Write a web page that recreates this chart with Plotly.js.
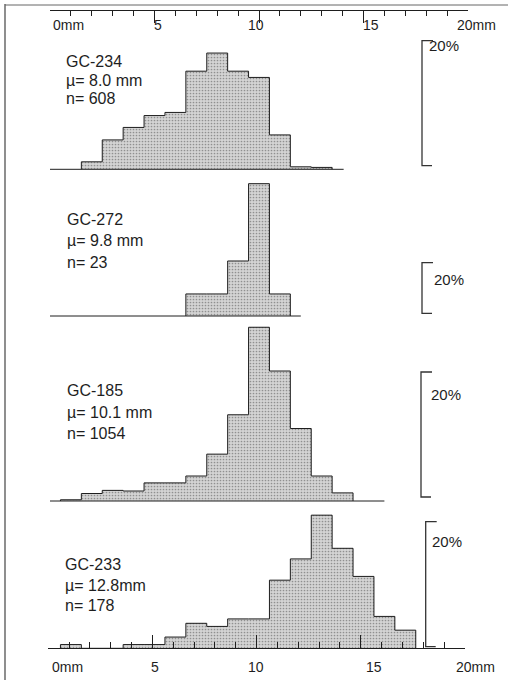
<!DOCTYPE html>
<html>
<head>
<meta charset="utf-8">
<script src="https://cdn.plot.ly/plotly-3.0.1.min.js"></script>
<style>html,body{margin:0;padding:0;background:#fff;}#chart{width:508px;height:680px;}</style>
</head>
<body>
<div id="chart"></div>
<script>
// ---- data ----
const samples = ['GC-234', 'GC-272', 'GC-185', 'GC-233'];
const means   = ['\u00b5= 8.0 mm', '\u00b5= 9.8 mm', '\u00b5= 10.1 mm', '\u00b5= 12.8mm'];
const counts  = ['n= 608', 'n= 23', 'n= 1054', 'n= 178'];

// bin centres (mm, 1 mm wide bins) and percentages
const bins234 = [2, 3, 4, 5, 6, 7, 8, 9, 10, 11, 12, 13];
const pct234  = [1.2, 4.7, 6.7, 8.6, 9.1, 15.7, 18.6, 15.7, 14.7, 5.5, 0.4, 0.3];

const bins272 = [7, 8, 9, 10, 11];
const pct272  = [8.7, 8.7, 21.7, 52.2, 8.7];

const bins185 = [1, 2, 3, 4, 5, 6, 7, 8, 9, 10, 11, 12, 13, 14];
const pct185  = [0.2, 1.2, 1.7, 1.6, 2.9, 2.9, 4.0, 7.5, 13.8, 27.8, 20.8, 11.6, 4.0, 1.3];

const bins233 = [1, 2, 3, 4, 5, 6, 7, 8, 9, 10, 11, 12, 13, 14, 15, 16, 17];
const pct233  = [0.6, 0, 0, 0.6, 0.6, 1.8, 4.0, 3.5, 4.7, 4.7, 10.9, 14.3, 21.3, 16.0, 11.5, 5.1, 2.9];

const scaleBarPct = 20;              // the "20%" scale bar of each panel
const baselineEnd = [14.05, 12.0, 16.0]; // mm where the drawn zero line stops (panels 1-3)
const axisTicks = [0, 5, 10, 15, 20];
const topTickText = ['0mm', '5', '10', '15', '20mm'];
const bottomTickText = ['0mm', '5', '10', '15', '20mm'];

// ---- layout geometry (pixels) ----
const W = 508, H = 680;
const PX = v => v / W;
const PY = v => 1 - v / H;
const mmPx = 20.9, mm0 = 50;           // top scale: 0 mm at x=50px
const basePx   = [169.3, 316, 501, 648.3];
const topPx    = [35, 175, 320, 505];
const pxPerPct = [6.25, 2.535, 6.25, 6.25];
const padPx = 3;
const bracketBottom = [0.58, 1.07, 0.64, 0.26];
const bracketX = [422, 422, 421, 425.7];
const pctLabelPos = [[427, 46], [432, 279], [429, 394], [430, 541.7]];
const labelX = [64, 65, 65, 63];
const labelY = [[61.7, 80.3, 98.3], [220, 240, 262], [390.7, 413, 433.7], [564, 585, 605.3]];
const topLabelX = [68, 158, 256, 371, 476];
const bottomLabelX = [67, 155, 256, 374, 475];

const panels = [
  {bins: bins234, pct: pct234},
  {bins: bins272, pct: pct272},
  {bins: bins185, pct: pct185},
  {bins: bins233, pct: pct233}
];

const fillGray = '#c9c9c9';
const ink = '#1e1e1e';
const font = 'Liberation Sans, Arial, Helvetica, sans-serif';

const data = [];
const shapes = [];
const annotations = [];
const scaleAxis = (pos, side, d0, d1, major, minor) => ({
  anchor: 'free', position: pos, side: side,
  domain: [d0, d1], range: [0, 20],
  tickmode: 'array', tickvals: axisTicks, ticks: 'inside', ticklen: major,
  tickwidth: 1, tickcolor: ink,
  minor: {dtick: 1, tick0: 0, ticks: 'inside', ticklen: minor, tickcolor: ink, tickwidth: 1},
  showticklabels: false, showline: true, linecolor: ink, linewidth: 1,
  showgrid: false, zeroline: false, layer: 'below traces', fixedrange: true
});
const layout = {
  width: W, height: H,
  margin: {l: 0, r: 0, t: 0, b: 0},
  paper_bgcolor: '#fff',
  plot_bgcolor: 'rgba(0,0,0,0)',
  showlegend: false,
  bargap: 0,
  xaxis: {
    domain: [0, 1],
    range: [-mm0 / mmPx, (W - mm0) / mmPx],
    visible: false, fixedrange: true
  },
  // top scale
  xaxis5: scaleAxis(PY(10), 'top', PX(50), PX(468), 12, 5),
  // bottom scale
  xaxis6: scaleAxis(PY(648.3), 'bottom', PX(48.3), PX(465), 13, 6),
  yaxis5: {domain: [0, 1], range: [0, 1], visible: false, anchor: 'x5', fixedrange: true},
  yaxis6: {domain: [0, 1], range: [0, 1], visible: false, anchor: 'x6', fixedrange: true},
  shapes: shapes,
  annotations: annotations
};

// the two millimetre scales (their ticks are drawn by these axes)
data.push({type: 'scatter', mode: 'lines', x: [], y: [], xaxis: 'x5', yaxis: 'y5', hoverinfo: 'skip'});
data.push({type: 'scatter', mode: 'lines', x: [], y: [], xaxis: 'x6', yaxis: 'y6', hoverinfo: 'skip'});

panels.forEach((p, i) => {
  const yName = i === 0 ? 'y' : 'y' + (i + 1);
  const axKey = i === 0 ? 'yaxis' : 'yaxis' + (i + 1);
  const pad = padPx / pxPerPct[i];
  layout[axKey] = {
    domain: [PY(basePx[i] + padPx), PY(topPx[i])],
    range: [-pad, (basePx[i] - topPx[i]) / pxPerPct[i]],
    anchor: 'x', visible: false, fixedrange: true
  };

  // filled bars
  data.push({
    type: 'bar', x: p.bins, y: p.pct, width: 1,
    xaxis: 'x', yaxis: yName,
    marker: {
      color: fillGray, line: {width: 0},
      pattern: {shape: '.', bgcolor: '#d4d4d4', fgcolor: '#909090', size: 3, solidity: 0.25}
    },
    hoverinfo: 'skip'
  });

  // step outline of the histogram (built from the same values)
  const sx = [p.bins[0] - 0.5], sy = [0];
  p.bins.forEach((c, k) => { sx.push(c - 0.5); sy.push(p.pct[k]); });
  sx.push(p.bins[p.bins.length - 1] + 0.5); sy.push(0);
  data.push({
    type: 'scatter', mode: 'lines', x: sx, y: sy,
    xaxis: 'x', yaxis: yName,
    line: {shape: 'hv', color: ink, width: 1},
    hoverinfo: 'skip'
  });

  // zero line for panels 1-3
  if (i < 3) {
    shapes.push({type: 'line', xref: 'x', yref: yName, x0: 0, x1: baselineEnd[i], y0: 0, y1: 0,
      line: {color: ink, width: 1}});
  }

  // 20% scale bracket
  const b0 = bracketBottom[i], b1 = bracketBottom[i] + scaleBarPct;
  const bx = PX(bracketX[i]), bxe = PX(bracketX[i] + 11), bxe0 = PX(bracketX[i] + 10);
  shapes.push({type: 'path', xref: 'paper', yref: yName,
    path: `M ${bxe},${b1} L ${bx},${b1} L ${bx},${b0} L ${bxe0},${b0}`,
    line: {color: '#333', width: 1.3}});
  annotations.push({xref: 'paper', yref: 'paper', x: PX(pctLabelPos[i][0]), y: PY(pctLabelPos[i][1]),
    xanchor: 'left', yanchor: 'middle', showarrow: false, text: scaleBarPct + '%',
    font: {family: font, size: 15, color: ink}});

  // sample labels
  [samples[i], means[i], counts[i]].forEach((t, k) => {
    annotations.push({xref: 'paper', yref: 'paper', x: PX(labelX[i]), y: PY(labelY[i][k]),
      xanchor: 'left', yanchor: 'middle', showarrow: false, text: t,
      font: {family: font, size: 16, color: ink}});
  });
});

// axis labels
topTickText.forEach((t, k) => {
  annotations.push({xref: 'paper', yref: 'paper', x: PX(topLabelX[k]), y: PY(25),
    xanchor: 'center', yanchor: 'middle', showarrow: false, text: t,
    font: {family: font, size: 14, color: ink}});
});
bottomTickText.forEach((t, k) => {
  annotations.push({xref: 'paper', yref: 'paper', x: PX(bottomLabelX[k]), y: PY(666.7),
    xanchor: 'center', yanchor: 'middle', showarrow: false, text: t,
    font: {family: font, size: 14, color: ink}});
});

// frame (left and top border of the figure)
shapes.push({type: 'line', xref: 'paper', yref: 'paper', x0: PX(5), x1: PX(5), y0: PY(4), y1: PY(680),
  line: {color: '#444', width: 1.2}});
shapes.push({type: 'line', xref: 'paper', yref: 'paper', x0: PX(5), x1: PX(508), y0: PY(5), y1: PY(5),
  line: {color: '#666', width: 1}});

Plotly.newPlot('chart', data, layout, {staticPlot: true, displayModeBar: false});
</script>
</body>
</html>
